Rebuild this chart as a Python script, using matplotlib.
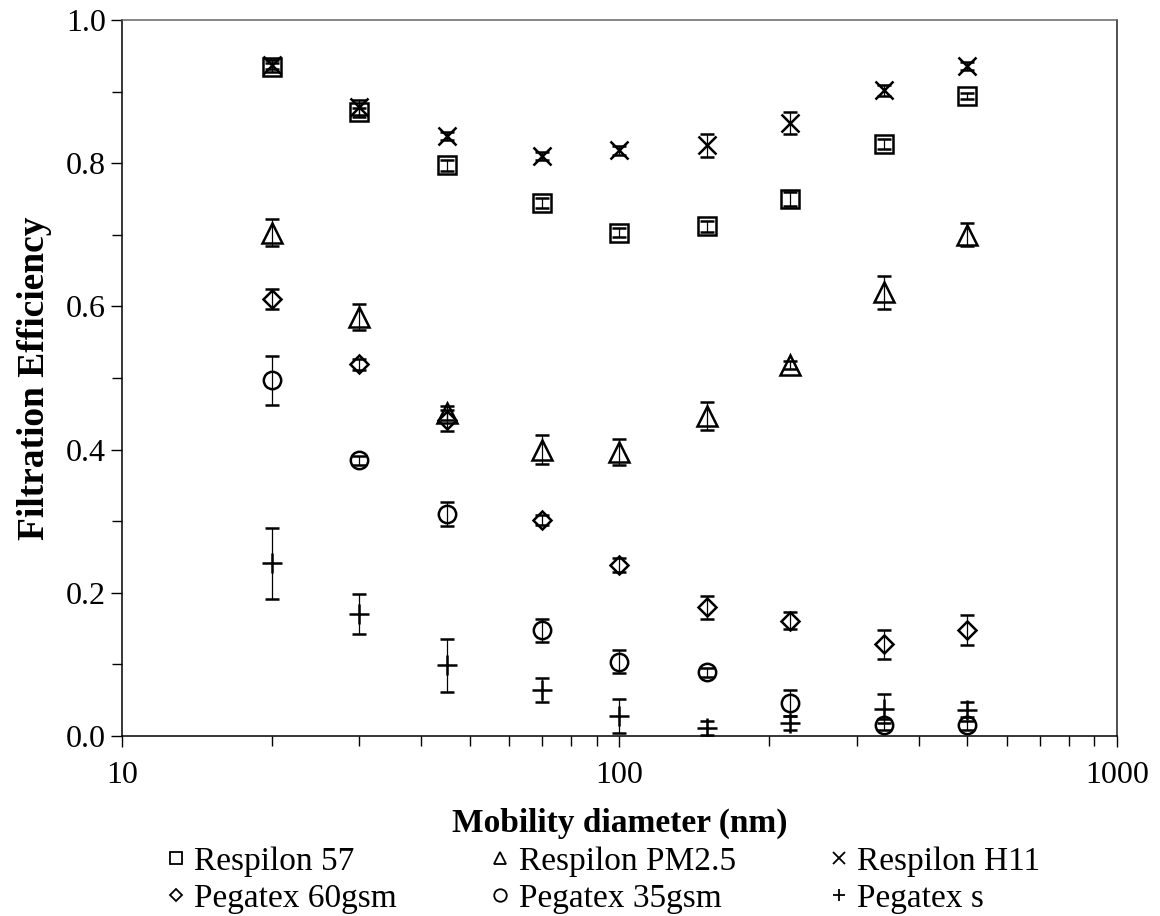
#importing libraries
import matplotlib
matplotlib.use("Agg")
from matplotlib import pyplot as plt
from matplotlib.lines import Line2D
from matplotlib.ticker import MultipleLocator, FixedLocator, NullFormatter
###########################################################
#data
diameter = [20, 30, 45, 70, 100, 150, 220, 340, 500]

r57 = [0.934, 0.871, 0.797, 0.745, 0.703, 0.712, 0.750, 0.827, 0.894]
r57_err = [0.006, 0.006, 0.008, 0.007, 0.006, 0.008, 0.010, 0.007, 0.004]

rpm25 = [0.703, 0.585, 0.451, 0.400, 0.397, 0.447, 0.518, 0.620, 0.700]
rpm25_err = [0.019, 0.018, 0.010, 0.020, 0.018, 0.020, 0.006, 0.023, 0.016]

rh11 = [0.938, 0.878, 0.838, 0.810, 0.818, 0.825, 0.856, 0.902, 0.936]
rh11_err = [0.006, 0.010, 0.006, 0.006, 0.006, 0.016, 0.015, 0.008, 0.006]

p60 = [0.610, 0.519, 0.441, 0.302, 0.239, 0.180, 0.161, 0.128, 0.148]
p60_err = [0.014, 0.008, 0.015, 0.007, 0.010, 0.016, 0.012, 0.020, 0.021]

p35 = [0.497, 0.385, 0.310, 0.148, 0.104, 0.089, 0.046, 0.016, 0.015]
p35_err = [0.034, 0.006, 0.017, 0.016, 0.016, 0.006, 0.018, 0.008, 0.006]

ps = [0.241, 0.170, 0.099, 0.064, 0.028, 0.011, 0.018, 0.038, 0.037]
ps_err = [0.050, 0.028, 0.037, 0.017, 0.024, 0.010, 0.010, 0.020, 0.011]

names = ["Respilon 57", "Respilon PM2.5", "Respilon H11",
         "Pegatex 60gsm", "Pegatex 35gsm", "Pegatex s"]
values = [r57, rpm25, rh11, p60, p35, ps]
errors = [r57_err, rpm25_err, rh11_err, p60_err, p35_err, ps_err]
markers = ["s", "^", "x", "D", "o", "+"]
sizes = [13, 15, 13, 9.5, 12.5, 14]
###########################################################
plt.rcParams['font.family'] = ['Liberation Serif', 'DejaVu Serif']

fig = plt.figure(figsize=(11.6, 9.16), dpi=100)
ax = fig.add_axes([0.105, 0.1965, 0.858, 0.7815])

for y, e, m, s in zip(values, errors, markers, sizes):
    ax.errorbar(diameter, y, yerr=e, fmt=m, ms=s, mfc='none', mec='black',
                mew=1.8, ecolor='black', elinewidth=0.9, capsize=5, capthick=0.9)

ax.set_xscale('log')
ax.set_xlim(10, 1000)
ax.set_ylim(0, 1.0)
ax.yaxis.set_major_locator(MultipleLocator(0.2))
ax.yaxis.set_minor_locator(MultipleLocator(0.1))
ax.set_yticklabels([f"{v:.1f}" for v in ax.get_yticks()])
ax.set_xticks([10, 100, 1000])
ax.set_xticklabels(["10", "100", "1000"])
ax.xaxis.set_minor_locator(FixedLocator([k * d for d in (10, 100) for k in range(2, 10)]))
ax.xaxis.set_minor_formatter(NullFormatter())
ax.tick_params(which='both', direction='out', labelsize=23, width=1, color='black')
ax.tick_params(which='major', length=8)
ax.tick_params(which='minor', length=7)
ax.tick_params(axis='x', pad=10)
for sp in ax.spines.values():
    sp.set_linewidth(1.1)
ax.spines['top'].set_color('#666666')
ax.spines['right'].set_color('#222222')

ax.set_xlabel("Mobility diameter (nm)", fontsize=24, fontweight='bold', labelpad=13)
ax.set_ylabel("Filtration Efficiency", fontsize=27, fontweight='bold', labelpad=10)

#legend: row-wise order with matplotlib's column filling
handles = [Line2D([], [], marker=m, ls='none', ms=9 if m != "D" else 6.5,
                  mfc='none', mec='black', mew=1.3) for m in markers]
order = [0, 3, 1, 4, 2, 5]
fig.legend([handles[i] for i in order], [names[i] for i in order],
           loc='upper left', bbox_to_anchor=(0.143, 0.076), ncol=3, frameon=False,
           fontsize=24, handlelength=0.6, handletextpad=0.25, columnspacing=2.8,
           labelspacing=0.2, borderaxespad=0, borderpad=0)

fig.savefig("out.png", dpi=100)
